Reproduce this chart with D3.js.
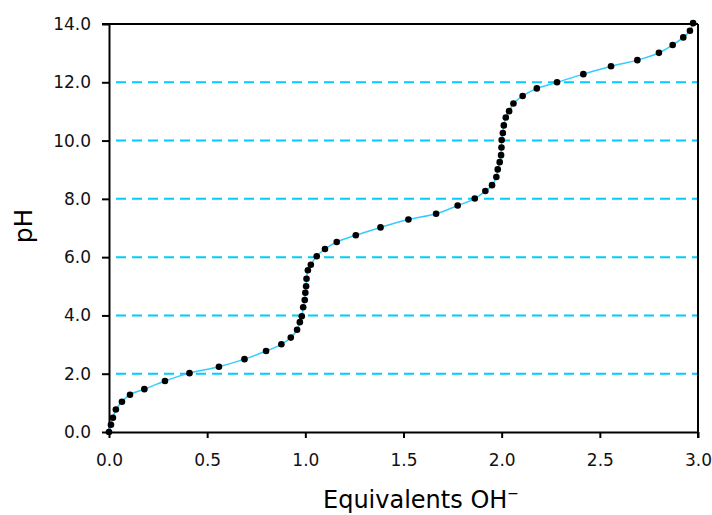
<!DOCTYPE html>
<html><head><meta charset="utf-8">
<script src="https://cdn.jsdelivr.net/npm/d3@7"></script>
<style>
html,body{margin:0;padding:0;background:#fff;}
svg{display:block;font-family:"DejaVu Sans",sans-serif;}
</style></head>
<body>
<svg id="c" width="712" height="515"></svg>
<script>
const equivalents = [0, 0.01, 0.02, 0.035, 0.066, 0.107, 0.18, 0.285, 0.41, 0.56, 0.69, 0.80, 0.878, 0.926, 0.958, 0.972, 0.982, 0.989, 0.997, 1.0, 1.004, 1.006, 1.013, 1.028, 1.058, 1.10,
  1.16, 1.257, 1.383, 1.525, 1.666, 1.776, 1.863, 1.917, 1.951, 1.973, 1.98, 1.99, 1.997, 1.999, 2.0, 2.006, 2.011, 2.021, 2.038, 2.06, 2.107, 2.179, 2.282,
  2.416, 2.557, 2.691, 2.801, 2.871, 2.925, 2.959, 2.975];
const pH = [0, 0.25, 0.49, 0.77, 1.04, 1.28, 1.47, 1.75, 2.02, 2.24, 2.50, 2.78, 3.01, 3.24, 3.51, 3.77, 3.97, 4.28, 4.53, 4.78, 5.0, 5.26, 5.55, 5.74, 6.03, 6.28,
  6.52, 6.75, 7.02, 7.29, 7.49, 7.77, 8.01, 8.27, 8.47, 8.75, 9.01, 9.26, 9.5, 9.76, 10.02, 10.26, 10.52, 10.79, 11.01, 11.27, 11.53, 11.79, 12.0,
  12.28, 12.55, 12.76, 13.01, 13.28, 13.54, 13.77, 14.03];
const xTicks = [0, 0.5, 1.0, 1.5, 2.0, 2.5, 3.0];
const yTicks = [0, 2, 4, 6, 8, 10, 12, 14];
const gridValues = [2, 4, 6, 8, 10, 12];
const xTitle = "Equivalents OH";
const yTitle = "pH";

const svg = d3.select("#c");
const L = 109, R = 698, T = 24, B = 432;
const x = d3.scaleLinear().domain([0, 3]).range([L, R]);
const y = d3.scaleLinear().domain([0, 14]).range([B, T]);

// gridlines
svg.append("g").selectAll("line").data(gridValues).join("line")
  .attr("x1", L + 1).attr("x2", R).attr("y1", d => y(d)).attr("y2", d => y(d))
  .attr("stroke", "#00ccff").attr("stroke-width", 2)
  .attr("stroke-dasharray", "10,6").attr("stroke-dashoffset", 10);

// frame top/right
svg.append("line").attr("x1", L - 7).attr("x2", R).attr("y1", T).attr("y2", T)
  .attr("stroke", "#000").attr("stroke-width", 2);
svg.append("line").attr("x1", R).attr("x2", R).attr("y1", T).attr("y2", B + 6)
  .attr("stroke", "#000").attr("stroke-width", 2);

// axes
const ya = svg.append("g").attr("transform", `translate(${L},0)`)
  .call(d3.axisLeft(y).tickValues(yTicks).tickFormat(d3.format(".1f")).tickSize(7).tickSizeOuter(0).tickPadding(11));
const xa = svg.append("g").attr("transform", `translate(0,${B})`)
  .call(d3.axisBottom(x).tickValues(xTicks).tickFormat(d3.format(".1f")).tickSize(6).tickSizeOuter(0).tickPadding(16));
[ya, xa].forEach(a => {
  a.select(".domain").attr("stroke", "#000").attr("stroke-width", 2);
  a.selectAll(".tick line").attr("stroke", "#000").attr("stroke-width", 2);
  a.selectAll(".tick text").attr("font-family", "DejaVu Sans").attr("font-size", 17).attr("fill", "#111");
});

// curve
const pts = equivalents.map((e, i) => [e, pH[i]]);
svg.append("path").datum(pts)
  .attr("d", d3.line().x(d => x(d[0])).y(d => y(d[1])).curve(d3.curveCatmullRom.alpha(0.5)))
  .attr("fill", "none").attr("stroke", "#33ccff").attr("stroke-width", 1.5);

// points
svg.append("g").selectAll("circle").data(pts).join("circle")
  .attr("cx", d => x(d[0])).attr("cy", d => y(d[1])).attr("r", 3.3).attr("fill", "#000");

// titles
const xt = svg.append("text").attr("x", 323).attr("y", 508)
  .attr("font-size", 24).attr("fill", "#000").text(xTitle);
xt.append("tspan").attr("dy", -10).attr("font-size", 14).text("\u2212");
svg.append("text").attr("transform", "translate(32,226) rotate(-90)")
  .attr("text-anchor", "middle").attr("font-size", 25).attr("fill", "#000").text(yTitle);
</script>
</body></html>
